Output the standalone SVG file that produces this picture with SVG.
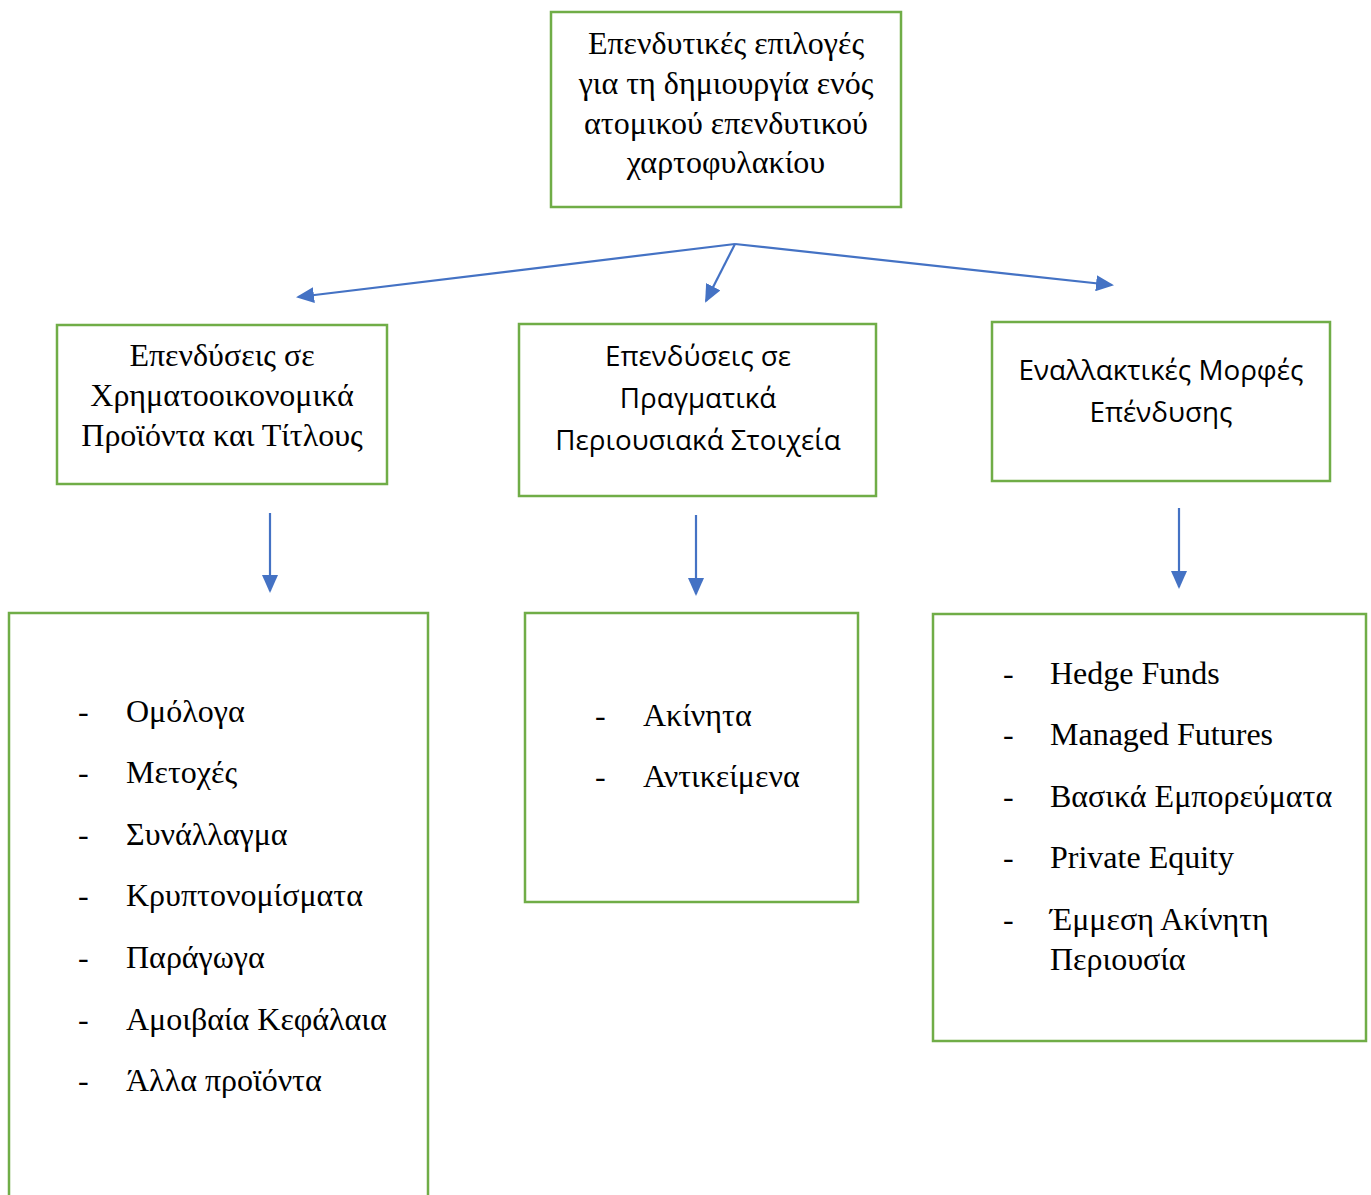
<svg xmlns="http://www.w3.org/2000/svg" width="1371" height="1195" viewBox="0 0 1371 1195">
<defs>
<style>
.box{fill:#fff;stroke:#70AD47;stroke-width:2.5}
.serif{font-family:"Liberation Serif","Times New Roman",serif;font-size:32px;fill:#000}
.sans{font-family:"Open Sans","Noto Sans",sans-serif;font-size:27.8px;fill:#000}
.c{text-anchor:middle}
.conn{stroke:#4472C4;stroke-width:2.2;fill:none;marker-end:url(#ah)}
</style>
<marker id="ah" viewBox="0 0 18 16" refX="16" refY="8" markerWidth="18" markerHeight="16" markerUnits="userSpaceOnUse" orient="auto">
<path d="M0,0 L18,8 L0,16 z" fill="#4472C4"/>
</marker>
</defs>
<rect width="1371" height="1195" fill="#fff"/>
<g id="connectors">
<path class="conn" d="M735,244 L298,297"/>
<path class="conn" d="M735,244 L706,301"/>
<path class="conn" d="M735,244 L1112,285"/>
<path class="conn" d="M270,513 L270,591"/>
<path class="conn" d="M696,515 L696,594"/>
<path class="conn" d="M1179,508 L1179,587"/>
</g>
<g id="root">
<rect class="box" x="551" y="12" width="350" height="195"/>
<text class="serif c" x="726" y="54">Επενδυτικές επιλογές</text>
<text class="serif c" x="726" y="94">για τη δημιουργία ενός</text>
<text class="serif c" x="726" y="134">ατομικού επενδυτικού</text>
<text class="serif c" x="726" y="173">χαρτοφυλακίου</text>
</g>
<g id="financial">
<rect class="box" x="57" y="325" width="330" height="159"/>
<text class="serif c" x="222" y="366">Επενδύσεις σε</text>
<text class="serif c" x="222" y="406">Χρηματοοικονομικά</text>
<text class="serif c" x="222" y="446">Προϊόντα και Τίτλους</text>
</g>
<g id="real">
<rect class="box" x="519" y="324" width="357" height="172"/>
<text class="sans c" x="698" y="366">Επενδύσεις σε</text>
<text class="sans c" x="698" y="408">Πραγματικά</text>
<text class="sans c" x="698" y="450">Περιουσιακά Στοιχεία</text>
</g>
<g id="alternative">
<rect class="box" x="992" y="322" width="338" height="159"/>
<text class="sans c" x="1161" y="380">Εναλλακτικές Μορφές</text>
<text class="sans c" x="1161" y="422">Επένδυσης</text>
</g>
<g id="financial-list">
<path class="box" d="M9,1197 L9,613 L428,613 L428,1197"/>
<text class="serif" x="78" y="722">-</text><text class="serif" x="126" y="722">Ομόλογα</text>
<text class="serif" x="78" y="783">-</text><text class="serif" x="126" y="783">Μετοχές</text>
<text class="serif" x="78" y="845">-</text><text class="serif" x="126" y="845">Συνάλλαγμα</text>
<text class="serif" x="78" y="906">-</text><text class="serif" x="126" y="906">Κρυπτονομίσματα</text>
<text class="serif" x="78" y="968">-</text><text class="serif" x="126" y="968">Παράγωγα</text>
<text class="serif" x="78" y="1030">-</text><text class="serif" x="126" y="1030">Αμοιβαία Κεφάλαια</text>
<text class="serif" x="78" y="1091">-</text><text class="serif" x="126" y="1091">Άλλα προϊόντα</text>
</g>
<g id="real-list">
<rect class="box" x="525" y="613" width="333" height="289"/>
<text class="serif" x="595" y="726">-</text><text class="serif" x="643" y="726">Ακίνητα</text>
<text class="serif" x="595" y="787">-</text><text class="serif" x="643" y="787">Αντικείμενα</text>
</g>
<g id="alternative-list">
<rect class="box" x="933" y="614" width="433" height="427"/>
<text class="serif" x="1003" y="684">-</text><text class="serif" x="1050" y="684">Hedge Funds</text>
<text class="serif" x="1003" y="745">-</text><text class="serif" x="1050" y="745">Managed Futures</text>
<text class="serif" x="1003" y="807">-</text><text class="serif" x="1050" y="807">Βασικά Εμπορεύματα</text>
<text class="serif" x="1003" y="868">-</text><text class="serif" x="1050" y="868">Private Equity</text>
<text class="serif" x="1003" y="930">-</text><text class="serif" x="1050" y="930">Έμμεση Ακίνητη</text>
<text class="serif" x="1050" y="970">Περιουσία</text>
</g>
</svg>
